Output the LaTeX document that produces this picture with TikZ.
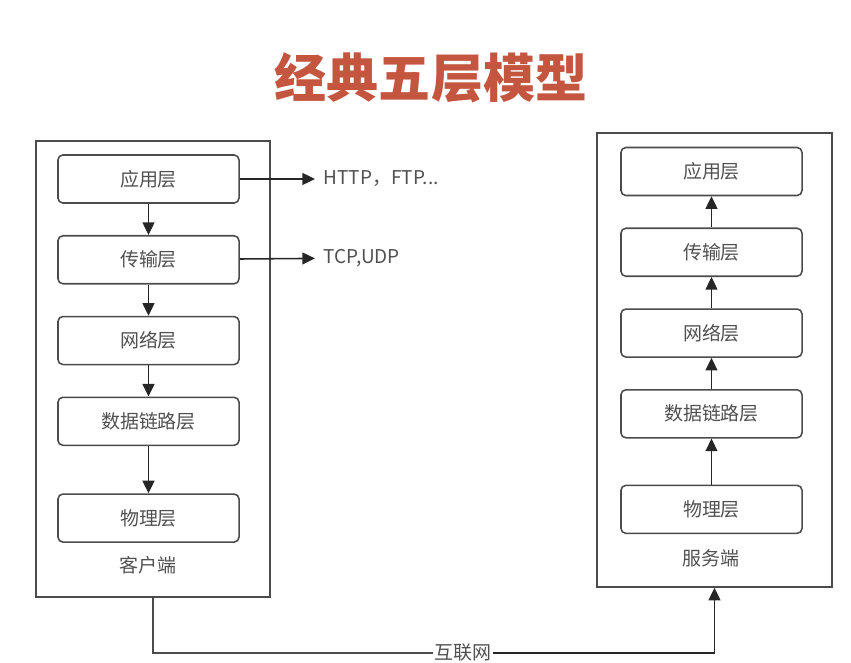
\documentclass[tikz,border=0pt]{standalone}
\usepackage{fontspec}
\setmainfont{Noto Sans CJK SC}
\usepackage{tikz}
\usetikzlibrary{arrows.meta, positioning, fit}
\definecolor{titlered}{RGB}{196,86,64}
\definecolor{linegray}{RGB}{75,75,75}
\definecolor{textgray}{RGB}{80,80,80}

\begin{document}
\begin{tikzpicture}[x=0.025cm, y=-0.025cm,
        node distance=0.78cm,
        every node/.style={font=\fontsize{13.5}{15}\selectfont, text=textgray},
        layer/.style={rectangle, draw=linegray, line width=1.1pt, rounded corners=3.5pt, minimum width=4.525cm, minimum height=1.2cm, align=center, inner sep=0pt},
        frame/.style={rectangle, draw=linegray, line width=1.1pt, inner sep=0pt},
        arr/.style={-{Triangle[length=9pt,width=8.5pt]}, line width=1.1pt, draw=black!85}]
        \useasboundingbox (0,0) rectangle (851,663);

        \node[font=\fontsize{37}{40}\selectfont\bfseries, text=titlered] (title) at (431,78) {经典五层模型};

        % client side
        \node[frame, fit={(36,141) (270,597)}] (client) {};
        \node[layer] (c1) at (148.5,179) {应用层};
        \node[layer, below=of c1] (c2) {传输层};
        \node[layer, below=of c2] (c3) {网络层};
        \node[layer, below=of c3] (c4) {数据链路层};
        \node[layer, below=1.18cm of c4] (c5) {物理层};
        \node (clientlbl) at (148,565) {客户端};
        \node[anchor=west, inner sep=1pt] (http) at (322,179) {HTTP，FTP...};
        \node[anchor=west, inner sep=1pt] (tcp) at (322,258) {TCP,UDP};

        % server side
        \node[frame, fit={(597,133) (832,587)}] (server) {};
        \node[layer] (s1) at (711.5,171.5) {应用层};
        \node[layer, below=of s1] (s2) {传输层};
        \node[layer, below=of s2] (s3) {网络层};
        \node[layer, below=of s3] (s4) {数据链路层};
        \node[layer, below=1.15cm of s4] (s5) {物理层};
        \node (serverlbl) at (711,558) {服务端};

        \node[fill=white, inner sep=1pt] (net) at (463,653) {互联网};

        \draw[arr] (c1) -- (c2);
        \draw[arr] (c2) -- (c3);
        \draw[arr] (c3) -- (c4);
        \draw[arr] (c4) -- (c5);
        \draw[arr, shorten >=5pt] (c1) -- (http);
        \draw[arr, shorten >=5pt] (c2) -- (tcp);

        \draw[arr] (s5) -- (s4);
        \draw[arr] (s4) -- (s3);
        \draw[arr] (s3) -- (s2);
        \draw[arr] (s2) -- (s1);

        \draw[line width=1.1pt, draw=linegray] (client.south) |- (net.west);
        \draw[arr] (net.east) -| (server.south);
    \end{tikzpicture}
\end{document}
